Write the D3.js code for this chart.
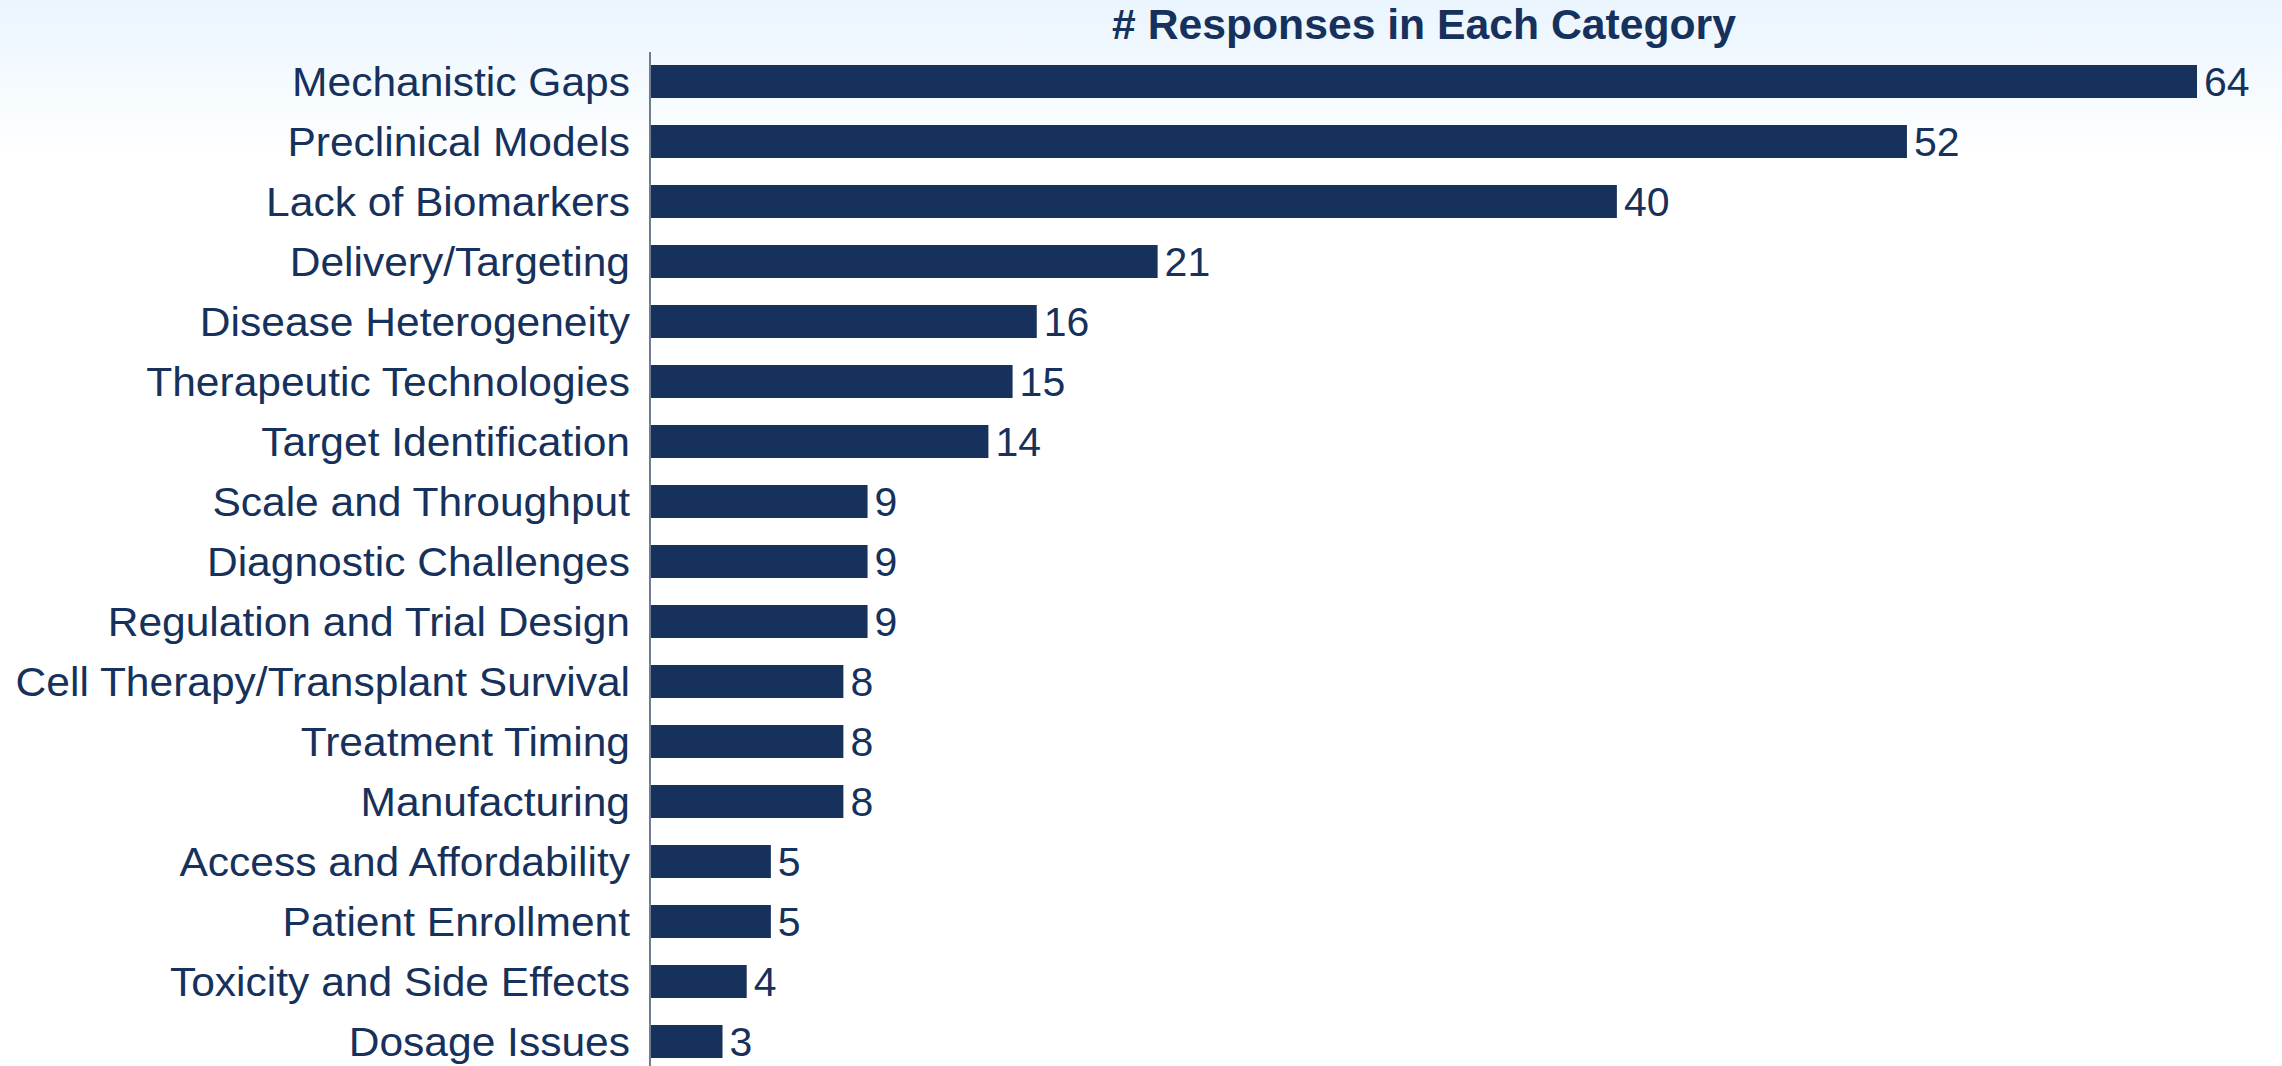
<!DOCTYPE html>
<html>
<head>
<meta charset="utf-8">
<script src="https://cdn.jsdelivr.net/npm/d3@7"></script>
<style>
  html, body { margin: 0; padding: 0; background: #ffffff; }
  svg { display: block; }
</style>
</head>
<body>
<script>
const categories = [
  "Mechanistic Gaps",
  "Preclinical Models",
  "Lack of Biomarkers",
  "Delivery/Targeting",
  "Disease Heterogeneity",
  "Therapeutic Technologies",
  "Target Identification",
  "Scale and Throughput",
  "Diagnostic Challenges",
  "Regulation and Trial Design",
  "Cell Therapy/Transplant Survival",
  "Treatment Timing",
  "Manufacturing",
  "Access and Affordability",
  "Patient Enrollment",
  "Toxicity and Side Effects",
  "Dosage Issues"
];
const values = [64, 52, 40, 21, 16, 15, 14, 9, 9, 9, 8, 8, 8, 5, 5, 4, 3];
const title = "# Responses in Each Category";

const W = 2282, H = 1066;
const navy = "#16315b";
const font = "Liberation Sans, Arial, Helvetica, sans-serif";

const svg = d3.select("body").append("svg")
  .attr("width", W).attr("height", H);

const defs = svg.append("defs");
const grad = defs.append("linearGradient")
  .attr("id", "bg").attr("x1", 0).attr("y1", 0).attr("x2", 0).attr("y2", 1);
grad.append("stop").attr("offset", "0%").attr("stop-color", "#eaf5fe");
grad.append("stop").attr("offset", "100%").attr("stop-color", "#ffffff");

svg.append("rect").attr("x", 0).attr("y", 0).attr("width", W).attr("height", H).attr("fill", "#ffffff");
svg.append("rect").attr("x", 0).attr("y", 0).attr("width", W).attr("height", 160).attr("fill", "url(#bg)");

const x = d3.scaleLinear().domain([0, 64]).range([650, 2197]);
const y = d3.scaleBand().domain(categories).range([51.5, 1071.5])
  .paddingInner(0.45).paddingOuter(0.225);

// title
svg.append("text")
  .attr("x", 1424).attr("y", 39)
  .attr("text-anchor", "middle")
  .attr("font-family", font)
  .attr("font-weight", "bold")
  .attr("font-size", 42.7)
  .attr("fill", navy)
  .text(title);

const data = categories.map((c, i) => ({ c, v: values[i] }));

// bars
svg.append("g").selectAll("rect").data(data).join("rect")
  .attr("x", x(0))
  .attr("y", d => y(d.c))
  .attr("width", d => x(d.v) - x(0))
  .attr("height", y.bandwidth())
  .attr("fill", navy);

// category labels
svg.append("g").selectAll("text").data(data).join("text")
  .attr("transform", d => `translate(630,${y(d.c) + y.bandwidth() / 2 + 14}) scale(1.05,1)`)
  .attr("text-anchor", "end")
  .attr("font-family", font)
  .attr("font-size", 40.5)
  .attr("fill", navy)
  .text(d => d.c);

// value labels
svg.append("g").selectAll("text").data(data).join("text")
  .attr("x", d => x(d.v) + 7)
  .attr("y", d => y(d.c) + y.bandwidth() / 2 + 14.5)
  .attr("text-anchor", "start")
  .attr("font-family", font)
  .attr("font-size", 41)
  .attr("fill", navy)
  .text(d => d.v);

// axis line
svg.append("line")
  .attr("x1", 650).attr("x2", 650)
  .attr("y1", 52).attr("y2", H)
  .attr("stroke", "#6f7d92").attr("stroke-width", 2);
</script>
</body>
</html>
